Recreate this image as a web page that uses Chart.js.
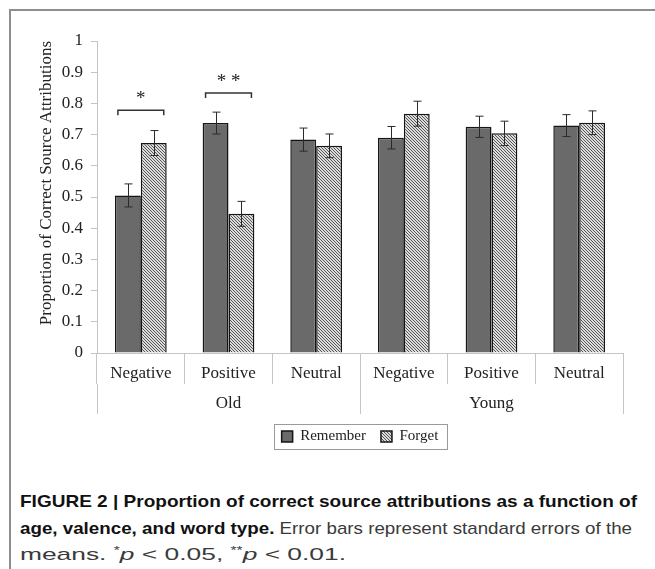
<!DOCTYPE html>
<html>
<head>
<meta charset="utf-8">
<script src="https://cdn.jsdelivr.net/npm/chart.js@4.4.1/dist/chart.umd.min.js"></script>
<style>
  html, body { margin: 0; padding: 0; background: #fff; width: 655px; height: 569px; overflow: hidden; }
  #frame { position: absolute; left: 9px; top: 9px; width: 800px; height: 800px; border: 2px solid #8e8e8e; }
  #chart { position: absolute; left: 0; top: 0; }
  .cap { position: absolute; left: 20px; white-space: nowrap; transform-origin: 0 50%;
         font-family: "Liberation Sans Narrow", "Liberation Sans", Arial, sans-serif; font-size: 17px; color: #3a3a3a; }
  .cap b { color: #111; }
  .cap sup { font-size: 10px; vertical-align: 6px; }
</style>
</head>
<body>
<div id="frame"></div>
<canvas id="chart" width="655" height="454"></canvas>
<div class="cap" id="cap1" data-w="617" style="top:492px"><b>FIGURE 2 | Proportion of correct source attributions as a function of</b></div>
<div class="cap" id="cap2" data-w="612" style="top:519px"><b>age, valence, and word type.</b> Error bars represent standard errors of the</div>
<div class="cap" id="cap3" data-w="326" style="top:545px">means. <sup>*</sup><i>p</i> &lt; 0.05, <sup>**</sup><i>p</i> &lt; 0.01.</div>
<script>
// data
const valence = ['Negative', 'Positive', 'Neutral', 'Negative', 'Positive', 'Neutral'];
const ageGroups = ['Old', 'Young'];
const remember = [0.505, 0.737, 0.684, 0.690, 0.725, 0.729];
const forget = [0.673, 0.446, 0.664, 0.767, 0.704, 0.738];
const rememberErr = [0.037, 0.035, 0.037, 0.036, 0.034, 0.035];
const forgetErr = [0.040, 0.040, 0.038, 0.040, 0.039, 0.038];
const yTicks = ['0', '0.1', '0.2', '0.3', '0.4', '0.5', '0.6', '0.7', '0.8', '0.9', '1'];
// significance: category index, stars, bracket height
const sigCat = [0, 1];
const sigStars = ['*', '* *'];
const sigLevel = [0.778, 0.833];

const serif = 'Liberation Serif, Times New Roman, serif';

function hatch() {
  const c = document.createElement('canvas');
  c.width = 3; c.height = 3;
  const g = c.getContext('2d');
  g.fillStyle = '#dcdcdc';
  g.fillRect(0, 0, 3, 3);
  g.fillStyle = '#555';
  g.fillRect(0, 0, 1, 1);
  g.fillRect(1, 1, 1, 1);
  g.fillRect(2, 2, 1, 1);
  return g.createPattern(c, 'repeat');
}

const errorBars = {
  id: 'errorBars',
  afterDatasetsDraw(chart) {
    const ctx = chart.ctx, y = chart.scales.y;
    const errs = [rememberErr, forgetErr];
    ctx.save();
    ctx.strokeStyle = '#2a2a2a';
    ctx.lineWidth = 1;
    chart.data.datasets.forEach((ds, di) => {
      chart.getDatasetMeta(di).data.forEach((bar, i) => {
        const x = Math.round(bar.x) + 0.5;
        const top = y.getPixelForValue(ds.data[i] + errs[di][i]);
        const bot = y.getPixelForValue(ds.data[i] - errs[di][i]);
        ctx.beginPath();
        ctx.moveTo(x, top); ctx.lineTo(x, bot);
        ctx.moveTo(x - 4, top); ctx.lineTo(x + 4, top);
        ctx.moveTo(x - 4, bot); ctx.lineTo(x + 4, bot);
        ctx.stroke();
      });
    });
    ctx.restore();
  }
};

const sigMarks = {
  id: 'sigMarks',
  afterDatasetsDraw(chart) {
    const ctx = chart.ctx, y = chart.scales.y;
    const m0 = chart.getDatasetMeta(0), m1 = chart.getDatasetMeta(1);
    ctx.save();
    ctx.strokeStyle = '#333';
    ctx.lineWidth = 1.5;
    ctx.fillStyle = '#222';
    ctx.font = '19px ' + serif;
    ctx.textAlign = 'center';
    ctx.textBaseline = 'middle';
    sigCat.forEach((c, k) => {
      const x0 = m0.data[c].x - 10, x1 = m1.data[c].x + 10;
      const yy = y.getPixelForValue(sigLevel[k]);
      ctx.beginPath();
      ctx.moveTo(x0, yy + 5); ctx.lineTo(x0, yy); ctx.lineTo(x1, yy); ctx.lineTo(x1, yy + 5);
      ctx.stroke();
      ctx.fillText(sigStars[k], (x0 + x1) / 2, yy - 11);
    });
    ctx.restore();
  }
};

const legendBox = {
  id: 'legendBox',
  afterDraw(chart) {
    const boxes = chart.legend.legendHitBoxes;
    if (!boxes || !boxes.length) return;
    const l = Math.min(...boxes.map(b => b.left)) - 8;
    const r = Math.max(...boxes.map(b => b.left + b.width)) + 8;
    const t = Math.min(...boxes.map(b => b.top)) - 5;
    const btm = Math.max(...boxes.map(b => b.top + b.height)) + 5;
    const ctx = chart.ctx;
    ctx.save();
    ctx.strokeStyle = '#9a9a9a';
    ctx.lineWidth = 1;
    ctx.strokeRect(Math.round(l) + 0.5, Math.round(t) + 0.5, Math.round(r - l), Math.round(btm - t));
    ctx.restore();
  }
};

const hatchFill = hatch();

new Chart(document.getElementById('chart').getContext('2d'), {
  type: 'bar',
  data: {
    labels: valence,
    datasets: [{
      label: 'Remember',
      data: remember,
      backgroundColor: '#6a6a6a',
      borderColor: '#151515',
      borderWidth: 1.5,
      categoryPercentage: 0.59,
      barPercentage: 1
    }, {
      label: 'Forget',
      data: forget,
      backgroundColor: hatchFill,
      borderColor: '#151515',
      borderWidth: 1.5,
      categoryPercentage: 0.59,
      barPercentage: 1
    }]
  },
  options: {
    responsive: false,
    animation: false,
    layout: { padding: { left: 20, top: 41, right: 32, bottom: 0 } },
    plugins: {
      tooltip: { enabled: false },
      legend: {
        position: 'bottom',
        fullSize: false,
        labels: {
          boxWidth: 11,
          boxHeight: 11,
          padding: 15,
          color: '#222',
          font: { family: serif, size: 15 }
        }
      }
    },
    scales: {
      x: {
        weight: 0,
        grid: { drawOnChartArea: false, tickLength: 31, color: '#c4c4c4', offset: true },
        border: { color: '#c4c4c4' },
        ticks: { color: '#222', font: { family: serif, size: 17 }, padding: -21, maxRotation: 0, autoSkip: false },
        afterFit: (s) => { s.height = 31; }
      },
      x2: {
        type: 'category',
        labels: ageGroups,
        position: 'bottom',
        weight: 1,
        offset: true,
        grid: { drawOnChartArea: false, tickLength: 30, color: '#c4c4c4', offset: true },
        border: { display: false },
        ticks: { color: '#222', font: { family: serif, size: 17 }, padding: -21, maxRotation: 0 },
        afterFit: (s) => { s.height = 30; }
      },
      y: {
        min: 0,
        max: 1,
        grid: { drawOnChartArea: false, tickLength: 6, color: '#c4c4c4' },
        border: { color: '#c4c4c4' },
        ticks: {
          stepSize: 0.1,
          padding: 8,
          color: '#222',
          font: { family: serif, size: 17 },
          callback: (v, i) => yTicks[i]
        },
        title: {
          display: true,
          align: 'end',
          text: 'Proportion of Correct Source Attributions',
          color: '#222',
          font: { family: serif, size: 17 },
          padding: { top: 16, bottom: 0 }
        },
        afterFit: (s) => { s.width = 77; }
      }
    }
  },
  plugins: [errorBars, sigMarks, legendBox]
});

// squeeze caption lines to the figure's condensed width
document.querySelectorAll('.cap').forEach((el) => {
  const w = el.getBoundingClientRect().width;
  el.style.transform = 'scaleX(' + (parseFloat(el.dataset.w) / w) + ')';
});
</script>
</body>
</html>
